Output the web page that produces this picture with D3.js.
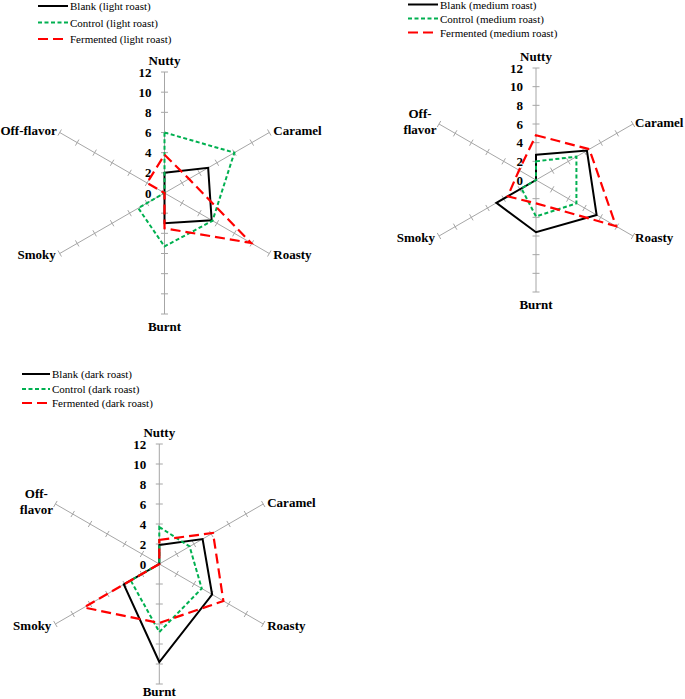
<!DOCTYPE html>
<html>
<head>
<meta charset="utf-8">
<script src="https://cdn.jsdelivr.net/npm/d3@7"></script>
<style>
html,body{margin:0;padding:0;background:#fff;}
svg{display:block;}
</style>
</head>
<body>
<svg id="chart" width="685" height="699"></svg>
<script>
// ---- data ----
const attributes = ["Nutty", "Caramel", "Roasty", "Burnt", "Smoky", "Off-flavor"];
const tickValues = [0, 2, 4, 6, 8, 10, 12];
const seriesNames = ["Blank", "Control", "Fermented"];

const lightBlank = [2.0, 5.0, 5.4, 3.0, 0, 0];
const lightControl = [6.0, 8.0, 5.5, 5.3, 3.0, 0];
const lightFermented = [3.8, 2.8, 9.9, 3.5, 0, 2.0];

const mediumBlank = [2.7, 6.3, 7.5, 5.6, 4.9, 0];
const mediumControl = [2.0, 5.0, 5.0, 3.9, 1.8, 0];
const mediumFermented = [4.8, 6.6, 9.9, 2.5, 3.5, 2.1];

const darkBlank = [1.9, 5.0, 6.1, 9.8, 4.1, 0];
const darkControl = [3.7, 3.5, 4.9, 6.8, 3.3, 0];
const darkFermented = [2.4, 6.2, 7.4, 5.9, 8.7, 0];

// ---- layout ----
const panels = [
  {roast: "light roast", cx: 164.5, cy: 193, R: 121, series: [lightBlank, lightControl, lightFermented],
   legend: {x1: 38, x2: 68, tx: 70, ys: [6, 22.5, 39]}, splitOff: false},
  {roast: "medium roast", cx: 536, cy: 180, R: 112, series: [mediumBlank, mediumControl, mediumFermented],
   legend: {x1: 408, x2: 438, tx: 440, ys: [4.5, 18.5, 32.5]}, splitOff: true},
  {roast: "dark roast", cx: 159.3, cy: 564, R: 120, series: [darkBlank, darkControl, darkFermented],
   legend: {x1: 22, x2: 50, tx: 52, ys: [374, 389, 403]}, splitOff: true}
];

const styles = [
  {color: "#000000", dash: null, width: 2},
  {color: "#00b050", dash: "4,2.5", width: 2},
  {color: "#ff0000", dash: "10,5", width: 2.2}
];

const svg = d3.select("#chart");
const serif = "'Liberation Serif','Times New Roman',serif";
const axisColor = "#a6a6a6";
const H = 699, W = 685;

panels.forEach(p => {
  const g = svg.append("g").attr("transform", `translate(${p.cx},${p.cy})`);
  const r = d3.scaleLinear().domain([0, 12]).range([0, p.R]);
  const angle = i => i * Math.PI / 3;
  const pt = (i, v) => [Math.sin(angle(i)) * r(v), -Math.cos(angle(i)) * r(v)];

  // axes
  attributes.forEach((a, i) => {
    const [x2, y2] = pt(i, 12);
    g.append("line").attr("x1", 0).attr("y1", 0).attr("x2", x2).attr("y2", y2)
      .attr("stroke", axisColor).attr("stroke-width", 1);
    const px = Math.cos(angle(i)), py = Math.sin(angle(i));
    tickValues.filter(v => v > 0).forEach(v => {
      const [tx, ty] = pt(i, v);
      g.append("line")
        .attr("x1", tx - px * 3.5).attr("y1", ty - py * 3.5)
        .attr("x2", tx + px * 3.5).attr("y2", ty + py * 3.5)
        .attr("stroke", axisColor).attr("stroke-width", 1);
    });
  });

  // tick labels
  tickValues.forEach(v => {
    g.append("text").attr("x", -13).attr("y", -r(v))
      .attr("text-anchor", "end").attr("dominant-baseline", "central")
      .style("font-family", serif).style("font-weight", "bold").style("font-size", "13px")
      .text(v);
  });

  // axis labels
  const lab = (x, y, anchor, txt) => g.append("text").attr("x", x).attr("y", y)
      .attr("text-anchor", anchor).attr("dominant-baseline", "central")
      .style("font-family", serif).style("font-weight", "bold").style("font-size", "13px")
      .text(txt);
  const off = p.R + 12;
  lab(0, -off, "middle", attributes[0]);
  let e = pt(1, 12);
  // keep right-hand labels inside the frame
  const rightRoom = W - (p.cx + e[0]) - 50;
  const gapR = Math.max(1.5, Math.min(4, rightRoom));
  lab(e[0] + gapR, e[1] - 2, "start", attributes[1]);
  e = pt(2, 12); lab(e[0] + gapR, e[1] + 1, "start", attributes[2]);
  lab(0, Math.min(off, H - 8 - p.cy), "middle", attributes[3]);
  e = pt(4, 12); lab(e[0] - 4, e[1] + 1, "end", attributes[4]);
  e = pt(5, 12);
  if (p.splitOff) {
    lab(e[0] - 19, e[1] - 11, "middle", "Off-");
    lab(e[0] - 19, e[1] + 5, "middle", "flavor");
  } else {
    lab(e[0] - 3, e[1] - 2, "end", attributes[5]);
  }

  // series
  const line = d3.lineRadial()
    .angle((d, i) => angle(i))
    .radius(d => r(d))
    .curve(d3.curveLinearClosed);
  p.series.forEach((s, k) => {
    g.append("path").attr("d", line(s))
      .attr("fill", "none").attr("stroke", styles[k].color)
      .attr("stroke-width", styles[k].width)
      .attr("stroke-dasharray", styles[k].dash)
      .attr("stroke-linejoin", "miter");
  });

  // legend
  seriesNames.forEach((n, k) => {
    const y = p.legend.ys[k];
    svg.append("line").attr("x1", p.legend.x1).attr("x2", p.legend.x2)
      .attr("y1", y).attr("y2", y)
      .attr("stroke", styles[k].color).attr("stroke-width", styles[k].width)
      .attr("stroke-dasharray", styles[k].dash);
    svg.append("text").attr("x", p.legend.tx).attr("y", y)
      .attr("dominant-baseline", "central")
      .style("font-family", serif).style("font-size", "11px")
      .text(`${n} (${p.roast})`);
  });
});
</script>
</body>
</html>
